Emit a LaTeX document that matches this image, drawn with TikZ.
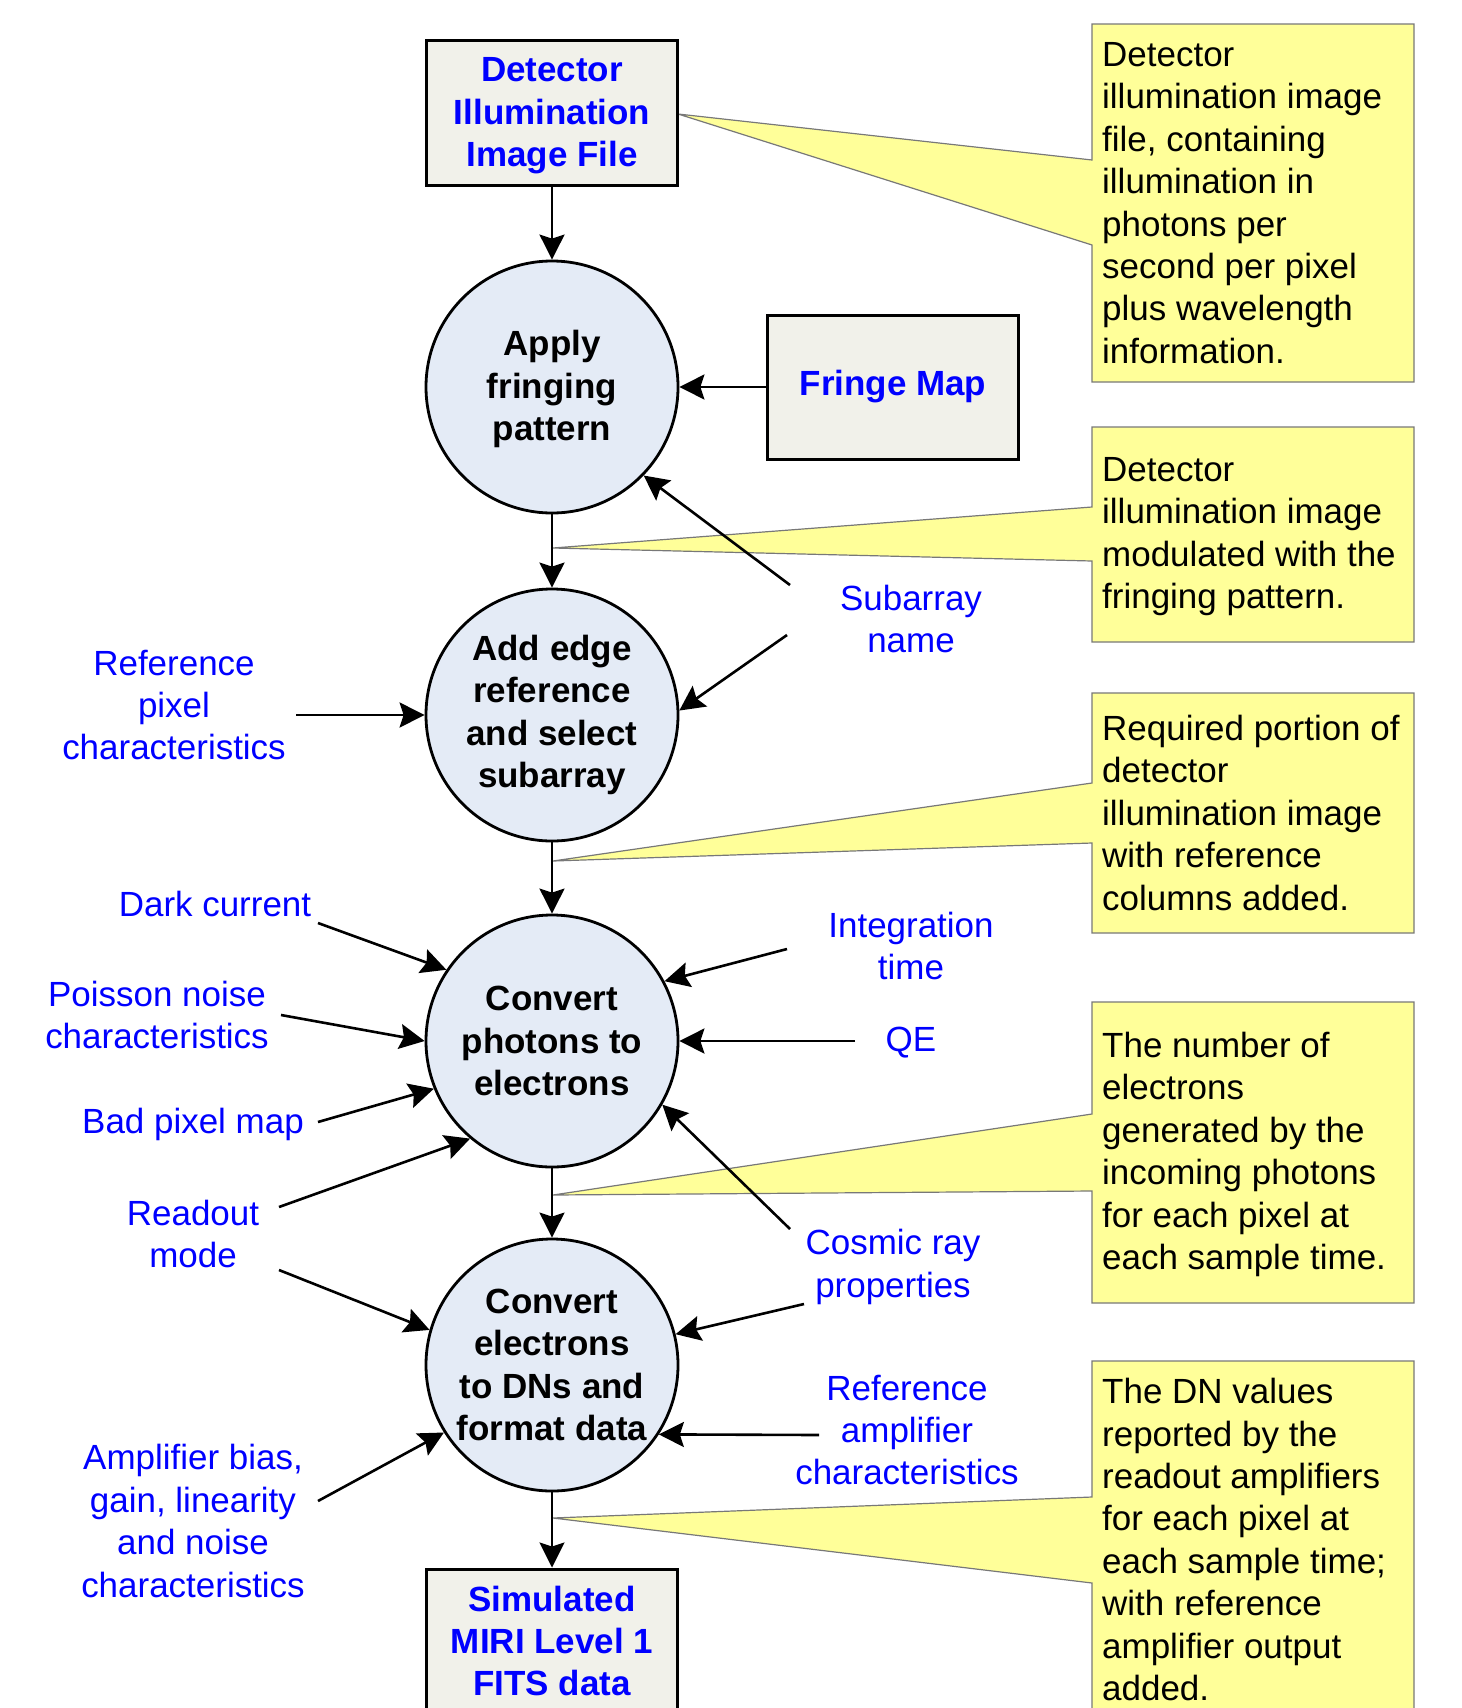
\documentclass[tikz,border=0pt]{standalone}
\usepackage{fontspec}
\setmainfont{Liberation Sans}
\usetikzlibrary{arrows.meta}
\definecolor{lblue}{RGB}{0,0,255}
\definecolor{circfill}{RGB}{228,235,246}
\definecolor{boxfill}{RGB}{241,241,234}
\definecolor{callfill}{RGB}{255,255,153}
\definecolor{callline}{RGB}{120,120,120}
\newcommand{\bigfont}{\fontsize{35.1}{42.6}\selectfont}
\begin{document}
\begin{tikzpicture}[x=1bp,y=-1bp,
  every node/.style={font=\bigfont, inner sep=0pt},
  proc/.style={circle, draw=black, line width=2.8bp, fill=circfill, minimum size=252bp, align=center, font=\bigfont\bfseries},
  databox/.style={rectangle, draw=black, line width=3bp, fill=boxfill, minimum width=251bp, minimum height=144bp, align=center, text=lblue, font=\bigfont\bfseries},
  lbl/.style={text=lblue, align=center},
  note/.style={anchor=north west, align=left, text=black},
  callout/.style={fill=callfill, draw=callline, line width=1.2bp, line join=miter},
  flow/.style={draw=black, line width=2.2bp, -{Stealth[length=25bp,width=25bp,inset=4bp]}},
  feed/.style={draw=black, line width=2.6bp, -{Stealth[length=25bp,width=25bp,inset=4bp]}}
]
\useasboundingbox (0,0) rectangle (1462,1708);
\fill[white] (0,0) rectangle (1462,1708);

% callouts
\path[callout] (1092,24) -- (1414,24) -- (1414,382) -- (1092,382) -- (1092,245) -- (678,114) -- (1092,160) -- cycle;
\path[callout] (1092,427) -- (1414,427) -- (1414,642) -- (1092,642) -- (1092,561) -- (553,548) -- (1092,507) -- cycle;
\path[callout] (1092,693) -- (1414,693) -- (1414,933) -- (1092,933) -- (1092,843) -- (553,861) -- (1092,783) -- cycle;
\path[callout] (1092,1002) -- (1414,1002) -- (1414,1303) -- (1092,1303) -- (1092,1191) -- (553,1195) -- (1092,1114) -- cycle;
\path[callout] (1092,1361) -- (1414,1361) -- (1414,1760) -- (1092,1760) -- (1092,1583) -- (553,1518) -- (1092,1497) -- cycle;

\node[note] (n1) at (1102,42) {Detector\\illumination image\\file, containing\\illumination in\\photons per\\second per pixel\\plus wavelength\\information.};
\node[note] (n2) at (1102,457) {Detector\\illumination image\\modulated with the\\fringing pattern.};
\node[note] (n3) at (1102,715) {Required portion of\\detector\\illumination image\\with reference\\columns added.};
\node[note] (n4) at (1102,1032) {The number of\\electrons\\generated by the\\incoming photons\\for each pixel at\\each sample time.};
\node[note] (n5) at (1102,1378) {The DN values\\reported by the\\readout amplifiers\\for each pixel at\\each sample time;\\with reference\\amplifier output\\added.};

% main chain
\node[databox] (top) at (552,113) {};
\node[text=lblue, align=center, font=\bigfont\bfseries] (toptext) at (552,116) {Detector\\Illumination\\Image File};
\node[proc] (c1) at (552,387) {};
\node[align=center, font=\bigfont\bfseries] (c1text) at (552,389) {Apply\\fringing\\pattern};
\node[databox] (fringe) at (893,387) {Fringe Map};
\node[proc] (c2) at (552,715) {Add edge\\reference\\and select\\subarray};
\node[proc] (c3) at (552,1041) {Convert\\photons to\\electrons};
\node[proc] (c4) at (552,1365) {Convert\\electrons\\to DNs and\\format data};
\node[databox] (bot) at (552,1641) {Simulated\\MIRI Level 1\\FITS data};

% labels
\node[lbl] (lsub) at (911,619) {Subarray\\name};
\node[lbl] (lrefpix) at (174,705) {Reference\\pixel\\characteristics};
\node[lbl] (ldark) at (215,904) {Dark current};
\node[lbl] (lpois) at (157,1015) {Poisson noise\\characteristics};
\node[lbl] (lbad) at (193,1124) {Bad pixel map};
\node[lbl] (lread) at (193,1234) {Readout\\mode};
\node[lbl] (lamp) at (193,1521) {Amplifier bias,\\gain, linearity\\and noise\\characteristics};
\node[lbl] (lint) at (911,946) {Integration\\time};
\node[lbl] (lqe) at (911,1043) {QE};
\node[lbl] (lcos) at (893,1267) {Cosmic ray\\properties};
\node[lbl] (lrefamp) at (907,1430) {Reference\\amplifier\\characteristics};

% arrow start points
\coordinate (sa1) at (790,585);
\coordinate (sa2) at (787,635);
\coordinate (rp) at (296,715);
\coordinate (dc) at (318,923);
\coordinate (pn) at (281,1015);
\coordinate (bp) at (318,1122);
\coordinate (ro1) at (279,1207);
\coordinate (ro2) at (279,1270);
\coordinate (it) at (787,949);
\coordinate (qe) at (855,1041);
\coordinate (cr1) at (790,1229);
\coordinate (cr2) at (804,1304);
\coordinate (ra) at (819,1435);
\coordinate (ab) at (318,1501);

% flow connectors
\draw[flow] (top.south) -- (c1.north);
\draw[flow] (c1.south) -- (c2.north);
\draw[flow] (c2.south) -- (c3.north);
\draw[flow] (c3.south) -- (c4.north);
\draw[flow] (c4.south) -- (bot.north);
\draw[feed] (fringe.west) -- (c1.east);

% input arrows
\draw[feed] (sa1) -- (c1.-44);
\draw[feed] (sa2) -- (c2.2);
\draw[feed] (rp) -- (c2.west);
\draw[feed] (dc) -- (c3.146);
\draw[feed] (pn) -- (c3.180);
\draw[feed] (bp) -- (c3.202);
\draw[feed] (ro1) -- (c3.230);
\draw[feed] (ro2) -- (c4.164);
\draw[feed] (it) -- (c3.28);
\draw[feed] (qe) -- (c3.east);
\draw[feed] (cr1) -- (c3.-30);
\draw[feed] (cr2) -- (c4.14);
\draw[feed] (ra) -- (c4.-33.7);
\draw[feed] (ab) -- (c4.212);
\end{tikzpicture}
\end{document}
